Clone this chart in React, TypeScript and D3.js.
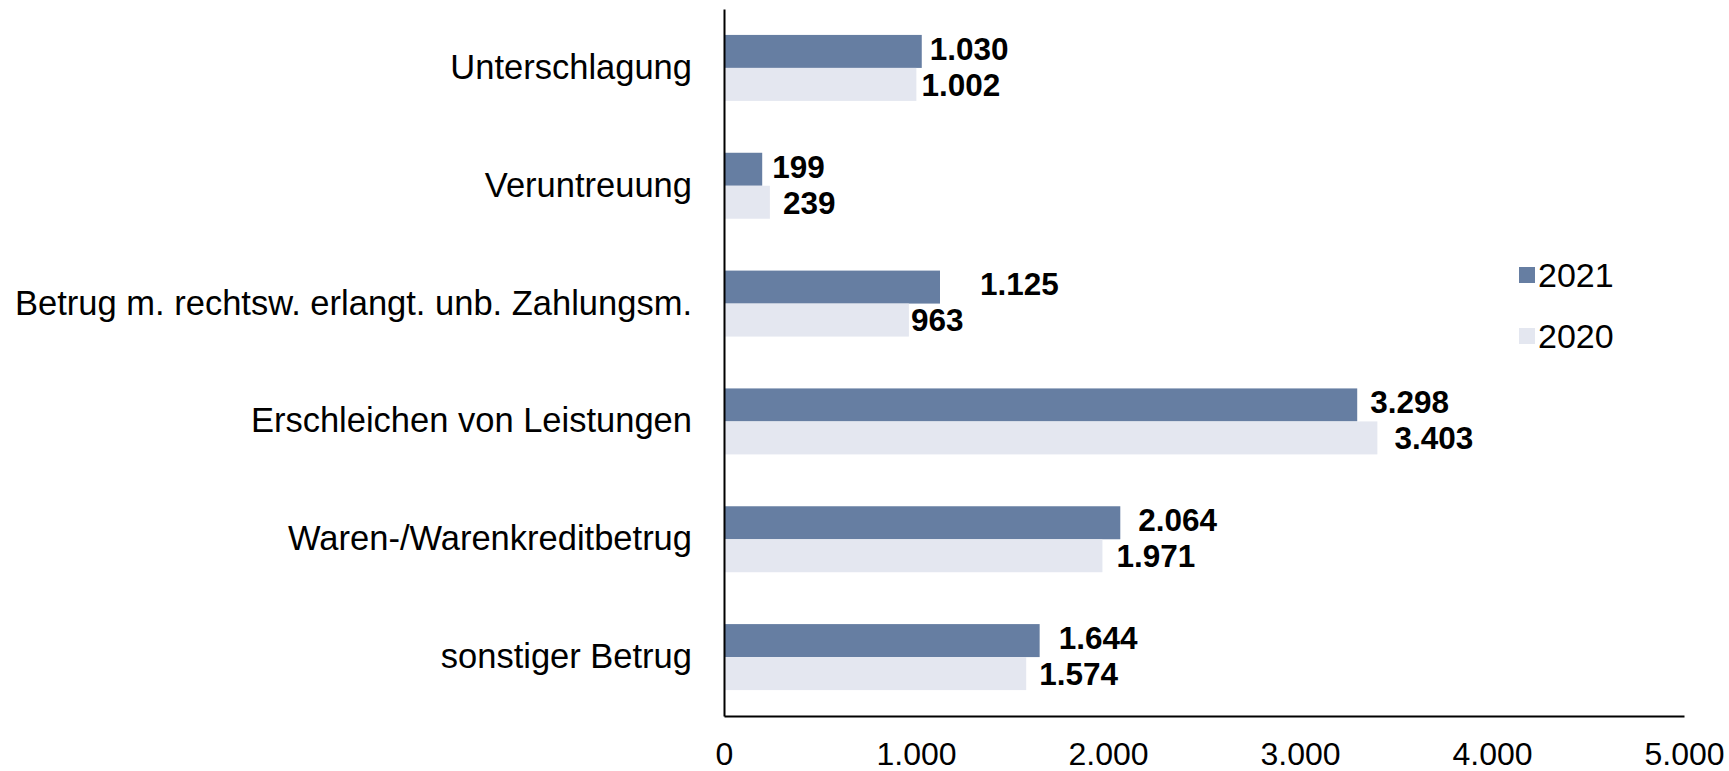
import { useEffect, useRef } from "react";
import * as d3 from "d3";

const categories = [
  "Unterschlagung",
  "Veruntreuung",
  "Betrug m. rechtsw. erlangt. unb. Zahlungsm.",
  "Erschleichen von Leistungen",
  "Waren-/Warenkreditbetrug",
  "sonstiger Betrug",
];
const values2021 = [1030, 199, 1125, 3298, 2064, 1644];
const values2020 = [1002, 239, 963, 3403, 1971, 1574];
const seriesNames = ["2021", "2020"];
const tickValues = [0, 1000, 2000, 3000, 4000, 5000];

// gap between bar end and its value label, as placed in the original
const labelGap2021 = [8, 10, 40, 13, 18, 19];
const labelGap2020 = [5, 13, 2, 17, 14, 13];

const W = 1729;
const H = 771;
const FONT = "'Liberation Sans', Arial, sans-serif";
const colors = ["#667ea2", "#e4e7f0"];

const fmt = (v: number) => d3.format(",")(v).replace(/,/g, ".");

const App = () => {
  const svgRef = useRef<SVGSVGElement>(null);

  useEffect(() => {
    if (!svgRef.current) return;
    const svg = d3.select(svgRef.current);
    svg.selectAll("*").remove();

    const x = d3.scaleLinear().domain([0, 5000]).range([724, 1684]);
    const y = d3
      .scaleBand<string>()
      .domain(categories)
      .range([9, 716])
      .paddingInner(0.44)
      .paddingOuter(0.22);
    const sub = d3
      .scaleBand<string>()
      .domain(seriesNames)
      .range([0, y.bandwidth()]);

    const series = [
      { name: "2021", values: values2021, gaps: labelGap2021, color: colors[0], dy: -3 },
      { name: "2020", values: values2020, gaps: labelGap2020, color: colors[1], dy: 0 },
    ];

    // bars + value labels
    series.forEach((s) => {
      svg
        .append("g")
        .selectAll("rect")
        .data(categories)
        .enter()
        .append("rect")
        .attr("x", x(0))
        .attr("y", (c) => (y(c) ?? 0) + (sub(s.name) ?? 0))
        .attr("width", (c, i) => x(s.values[i]) - x(0))
        .attr("height", sub.bandwidth())
        .attr("fill", s.color);

      svg
        .append("g")
        .selectAll("text")
        .data(categories)
        .enter()
        .append("text")
        .attr("x", (c, i) => x(s.values[i]) + s.gaps[i])
        .attr("y", (c) => (y(c) ?? 0) + (sub(s.name) ?? 0) + sub.bandwidth() / 2 + s.dy)
        .attr("dy", "0.36em")
        .attr("font-family", FONT)
        .attr("font-size", 31.5)
        .attr("font-weight", "bold")
        .attr("fill", "#000")
        .text((c, i) => fmt(s.values[i]));
    });

    // x axis
    const xAxis = svg
      .append("g")
      .attr("transform", "translate(0,716)")
      .call(
        d3
          .axisBottom(x)
          .tickValues(tickValues)
          .tickSize(0)
          .tickPadding(26)
          .tickFormat((d) => fmt(d as number))
      );
    xAxis.select(".domain").attr("stroke", "#000").attr("stroke-width", 2);
    xAxis
      .selectAll("text")
      .attr("font-family", FONT)
      .attr("font-size", 32)
      .attr("fill", "#000");

    // y axis
    const yAxis = svg
      .append("g")
      .attr("transform", "translate(724,0)")
      .call(d3.axisLeft(y).tickSize(0).tickPadding(32));
    yAxis.select(".domain").attr("stroke", "#000").attr("stroke-width", 2);
    yAxis
      .selectAll("text")
      .attr("font-family", FONT)
      .attr("font-size", 34.5)
      .attr("fill", "#000");

    // legend
    const legend = svg.append("g");
    const legendY = [275, 336];
    series.forEach((s, i) => {
      legend
        .append("rect")
        .attr("x", 1519)
        .attr("y", legendY[i] - 8)
        .attr("width", 16)
        .attr("height", 16)
        .attr("fill", s.color);
      legend
        .append("text")
        .attr("x", 1538)
        .attr("y", legendY[i])
        .attr("dy", "0.36em")
        .attr("font-family", FONT)
        .attr("font-size", 34)
        .attr("fill", "#000")
        .text(s.name);
    });
  }, []);

  return (
    <svg
      ref={svgRef}
      width={W}
      height={H}
      style={{ position: "absolute", left: 0, top: 0, background: "#fff" }}
    />
  );
};

export default App;
